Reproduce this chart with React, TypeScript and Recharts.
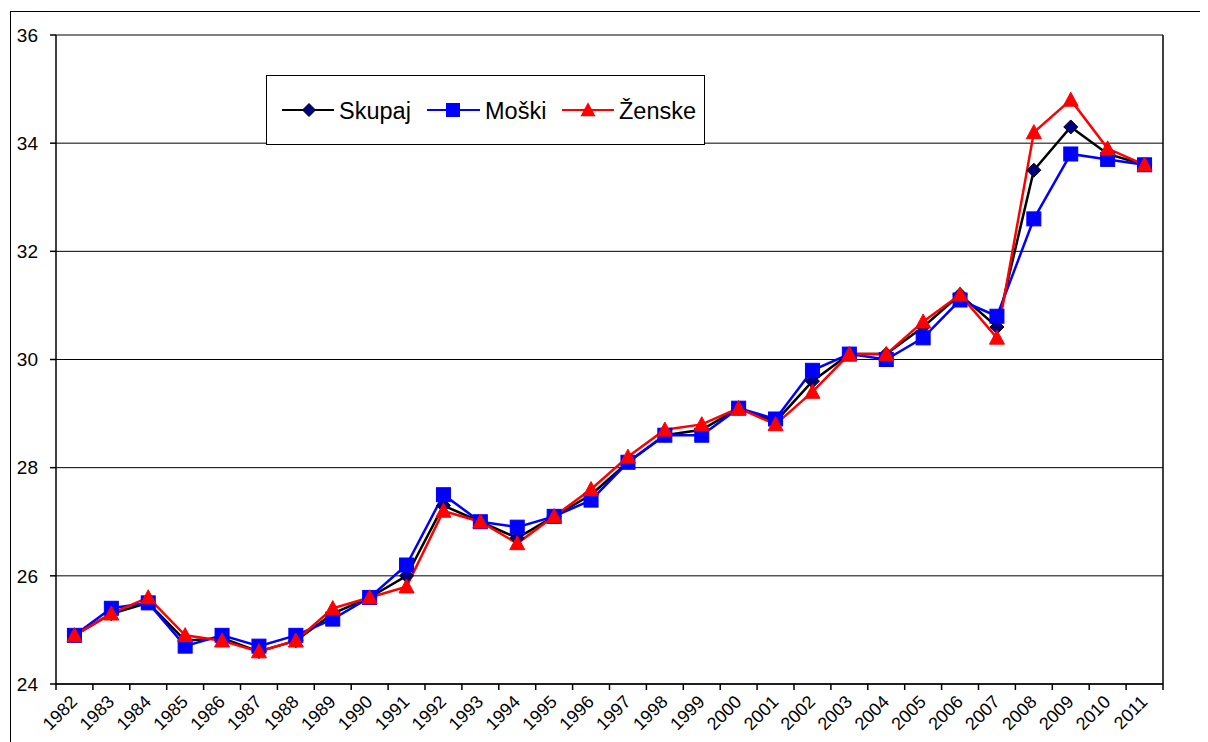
import React from 'react';
import { LineChart, Line, XAxis, YAxis, CartesianGrid, ReferenceLine, Legend } from 'recharts';

const years = ['1982','1983','1984','1985','1986','1987','1988','1989','1990','1991','1992','1993','1994','1995','1996','1997','1998','1999','2000','2001','2002','2003','2004','2005','2006','2007','2008','2009','2010','2011'];
const skupaj = [24.9,25.3,25.5,24.8,24.85,24.6,24.8,25.3,25.6,26.0,27.3,27.0,26.7,27.1,27.5,28.1,28.6,28.7,29.1,28.85,29.6,30.1,30.1,30.6,31.2,30.6,33.5,34.3,33.8,33.6];
const moski = [24.9,25.4,25.5,24.7,24.9,24.7,24.9,25.2,25.6,26.2,27.5,27.0,26.9,27.1,27.4,28.1,28.6,28.6,29.1,28.9,29.8,30.1,30.0,30.4,31.1,30.8,32.6,33.8,33.7,33.6];
const zenske = [24.9,25.3,25.6,24.9,24.8,24.6,24.8,25.4,25.6,25.8,27.2,27.0,26.6,27.1,27.6,28.2,28.7,28.8,29.1,28.8,29.4,30.1,30.1,30.7,31.2,30.4,34.2,34.8,33.9,33.6];
const yTicks = [24, 26, 28, 30, 32, 34, 36];
const seriesNames = ['Skupaj', 'Moški', 'Ženske'];

const data = years.map((y, i) => ({ pos: i + 0.5, year: y, skupaj: skupaj[i], moski: moski[i], zenske: zenske[i] }));
const boundaryTicks = Array.from({ length: years.length + 1 }, (_, i) => i);

const FONT = '"Liberation Sans", Arial, sans-serif';
const PLOT_W = 1107;

const diamondPath = (cx: number, cy: number, r: number) => `M${cx},${cy - r}L${cx + r},${cy}L${cx},${cy + r}L${cx - r},${cy}Z`;
const trianglePath = (cx: number, cy: number, w: number, h: number) => `M${cx},${cy - h * 0.55}L${cx + w / 2},${cy + h * 0.45}L${cx - w / 2},${cy + h * 0.45}Z`;

const DiamondDot = (props: any) => {
  const { cx, cy, index } = props;
  if (cx == null || cy == null) return <g key={`d${index}`} />;
  return <path key={`d${index}`} d={diamondPath(cx, cy, 7)} fill="#000080" stroke="#000" strokeWidth={1} />;
};
const SquareDot = (props: any) => {
  const { cx, cy, index } = props;
  if (cx == null || cy == null) return <g key={`s${index}`} />;
  return <rect key={`s${index}`} x={cx - 7} y={cy - 7} width={14} height={14} fill="#0000FF" stroke="#0000FF" strokeWidth={1} />;
};
const TriangleDot = (props: any) => {
  const { cx, cy, index } = props;
  if (cx == null || cy == null) return <g key={`t${index}`} />;
  return <path key={`t${index}`} d={trianglePath(cx, cy, 15, 14)} fill="#FF0000" stroke="#FF0000" strokeWidth={1} />;
};

const YearTick = (props: any) => {
  const { x, y, payload, width } = props;
  const idx = Math.round(payload.value);
  if (idx < 0 || idx >= years.length) return <g />;
  const w = typeof width === 'number' && width > 200 ? width : PLOT_W;
  const half = w / years.length / 2;
  const tx = x + half + 4;
  const ty = y + 11;
  return (
    <text x={tx} y={ty} transform={`rotate(-45 ${tx} ${ty})`} textAnchor="end" fontSize={18} fontFamily={FONT} fill="#000">
      {years[idx]}
    </text>
  );
};

const LegendBox = () => (
  <svg width={440} height={71} style={{ display: 'block' }}>
    <rect x={0.5} y={0.5} width={438} height={69} fill="#fff" stroke="#000" strokeWidth={1} />
    <line x1={16} x2={68} y1={35} y2={35} stroke="#000" strokeWidth={2} />
    <path d={diamondPath(43, 35, 6.5)} fill="#000080" stroke="#000" strokeWidth={1} />
    <text x={73} y={43.5} fontSize={23.5} fontFamily={FONT} fill="#000">{seriesNames[0]}</text>
    <line x1={161} x2={214} y1={35} y2={35} stroke="#0000FF" strokeWidth={2} />
    <rect x={180} y={28} width={14} height={14} fill="#0000FF" />
    <text x={219} y={43.5} fontSize={23.5} fontFamily={FONT} fill="#000">{seriesNames[1]}</text>
    <line x1={296} x2={348} y1={35} y2={35} stroke="#FF0000" strokeWidth={2} />
    <path d={trianglePath(322, 35, 15, 14)} fill="#FF0000" />
    <text x={353} y={43.5} fontSize={23.5} fontFamily={FONT} fill="#000">{seriesNames[2]}</text>
  </svg>
);

export default function App() {
  return (
    <div style={{ position: 'relative', width: 1200, height: 734, overflow: 'hidden', background: '#fff' }}>
      <div style={{ position: 'absolute', left: 2, top: 3, width: 1198, height: 731, borderTop: '1.5px solid #000', borderLeft: '1.5px solid #000', boxSizing: 'border-box' }} />
      <LineChart
        width={1200}
        height={734}
        data={data}
        margin={{ top: 27, right: 45, left: 0, bottom: 0 }}
        style={{ position: 'absolute', left: 0, top: 0 }}
      >
        <CartesianGrid horizontal={true} vertical={false} stroke="#000" strokeWidth={1} />
        <XAxis
          dataKey="pos"
          type="number"
          domain={[0, 30]}
          ticks={boundaryTicks}
          interval={0}
          tick={<YearTick />}
          tickSize={6}
          tickMargin={2}
          height={58}
          axisLine={{ stroke: '#000', strokeWidth: 1.5 }}
          tickLine={{ stroke: '#000', strokeWidth: 1.5 }}
        />
        <YAxis
          type="number"
          domain={[24, 36]}
          ticks={yTicks}
          interval={0}
          width={48}
          tickSize={6}
          tickMargin={12}
          axisLine={{ stroke: '#000', strokeWidth: 1.5 }}
          tickLine={{ stroke: '#000', strokeWidth: 1.5 }}
          tick={{ fontSize: 19, fontFamily: FONT, fill: '#000' }}
        />
        <ReferenceLine x={30} stroke="#000" strokeWidth={1.5} />
        <Legend
          verticalAlign="middle"
          align="center"
          layout="horizontal"
          content={<LegendBox />}
          wrapperStyle={{ position: 'absolute', left: 258, top: 67, width: 440, height: 71 }}
        />
        <Line dataKey="skupaj" name={seriesNames[0]} stroke="#000" strokeWidth={2.5} dot={DiamondDot} isAnimationActive={false} />
        <Line dataKey="moski" name={seriesNames[1]} stroke="#0000FF" strokeWidth={2.5} dot={SquareDot} isAnimationActive={false} />
        <Line dataKey="zenske" name={seriesNames[2]} stroke="#FF0000" strokeWidth={2.5} dot={TriangleDot} isAnimationActive={false} />
      </LineChart>
    </div>
  );
}
